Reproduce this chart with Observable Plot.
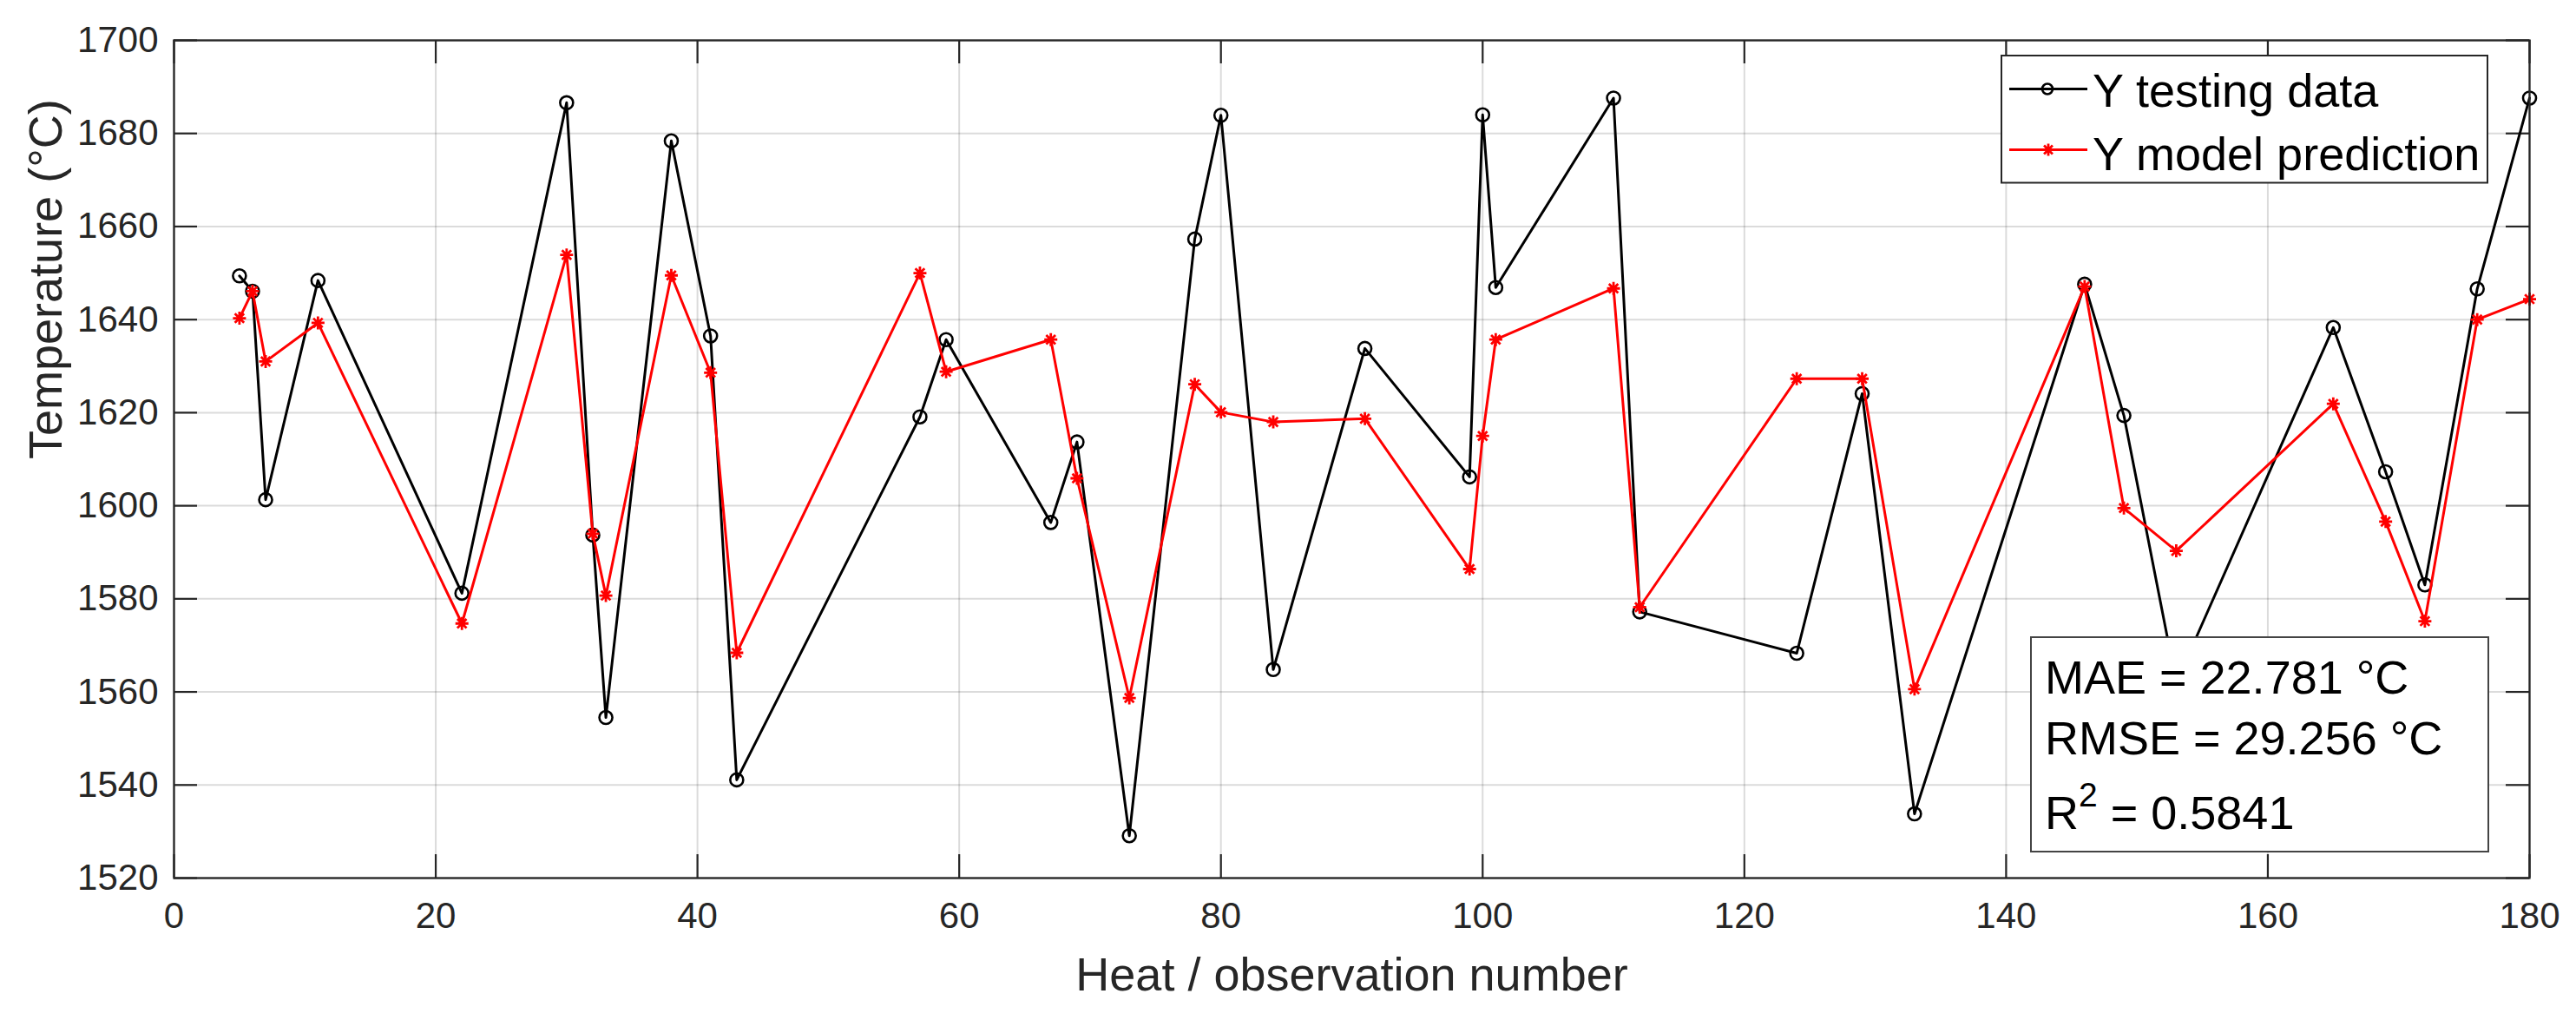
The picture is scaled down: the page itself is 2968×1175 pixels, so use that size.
<!DOCTYPE html>
<html>
<head>
<meta charset="utf-8">
<script src="https://cdn.jsdelivr.net/npm/d3@7"></script>
<script src="https://cdn.jsdelivr.net/npm/@observablehq/plot@0.6"></script>
<style>
  html, body { margin: 0; padding: 0; background: #fff; }
</style>
</head>
<body>
<div id="chart"></div>
<script>
// ---- data ----
const heat = [5, 6, 7, 11, 22, 30, 32, 33, 38, 41, 43, 57, 59, 67, 69, 73, 78, 80, 84, 91, 99, 100, 101, 110, 112, 124, 129, 133, 146, 149, 153, 165, 169, 172, 176, 180];
const testing = [1649.4, 1646.1, 1601.3, 1648.4, 1581.2, 1686.6, 1593.7, 1554.5, 1678.4, 1636.5, 1541.1, 1619.1, 1635.7, 1596.4, 1613.7, 1529.1, 1657.3, 1683.9, 1564.8, 1633.8, 1606.2, 1684.0, 1646.9, 1687.6, 1577.2, 1568.3, 1624.1, 1533.8, 1647.6, 1619.4, 1562.0, 1638.3, 1607.3, 1583.0, 1646.6, 1687.6];
const prediction = [1640.3, 1646.1, 1631.0, 1639.3, 1574.7, 1653.9, 1594.0, 1580.7, 1649.5, 1628.6, 1568.4, 1650.0, 1628.8, 1635.7, 1605.9, 1558.7, 1626.1, 1620.1, 1618.0, 1618.7, 1586.4, 1615.0, 1635.7, 1646.7, 1578.2, 1627.3, 1627.3, 1560.6, 1647.1, 1599.5, 1590.3, 1621.9, 1596.6, 1575.2, 1640.0, 1644.4];
const xTicks = [0, 20, 40, 60, 80, 100, 120, 140, 160, 180];
const yTicks = [1520, 1540, 1560, 1580, 1600, 1620, 1640, 1660, 1680, 1700];
const seriesNames = ["Y testing data", "Y model prediction"];
const statsLines = ["MAE = 22.781 °C", "RMSE = 29.256 °C"];
const r2Value = "0.5841";
const xLabel = "Heat / observation number";
const yLabel = "Temperature (°C)";

// ---- layout ----
const W = 2968, H = 1175;
const mL = 200, mR = 54, mT = 46, mB = 164;
const innerW = W - mL - mR, innerH = H - mT - mB;
const tickLen = 27;
const axisColor = "#262626";
const font = "'Liberation Sans', Arial, Helvetica, sans-serif";

const testRows = heat.map((x, i) => ({x, y: testing[i]}));
const predRows = heat.map((x, i) => ({x, y: prediction[i]}));

// MATLAB-like '*' marker: + and x combined
const asterisk = {
  draw(ctx, size) {
    const r = Math.sqrt(size / Math.PI);
    const d = r * Math.SQRT1_2;
    ctx.moveTo(-r, 0); ctx.lineTo(r, 0);
    ctx.moveTo(0, -r); ctx.lineTo(0, r);
    ctx.moveTo(-d, -d); ctx.lineTo(d, d);
    ctx.moveTo(-d, d); ctx.lineTo(d, -d);
  }
};

const fmt = d3.format("d");

const svg = Plot.plot({
  width: W,
  height: H,
  marginLeft: mL,
  marginRight: mR,
  marginTop: mT,
  marginBottom: mB,
  style: {fontFamily: font, color: axisColor, background: "#fff", overflow: "visible"},
  x: {domain: [0, 180]},
  y: {domain: [1520, 1700]},
  marks: [
    Plot.gridX(xTicks, {stroke: "#000", strokeOpacity: 0.14, strokeWidth: 2}),
    Plot.gridY(yTicks, {stroke: "#000", strokeOpacity: 0.14, strokeWidth: 2}),
    // inward ticks on all four sides
    Plot.tickX(xTicks, {x: d => d, insetTop: innerH - tickLen, stroke: axisColor, strokeWidth: 2.2}),
    Plot.tickX(xTicks, {x: d => d, insetBottom: innerH - tickLen, stroke: axisColor, strokeWidth: 2.2}),
    Plot.tickY(yTicks, {y: d => d, insetRight: innerW - tickLen, stroke: axisColor, strokeWidth: 2.2}),
    Plot.tickY(yTicks, {y: d => d, insetLeft: innerW - tickLen, stroke: axisColor, strokeWidth: 2.2}),
    Plot.axisX(xTicks, {anchor: "bottom", tickSize: 0, tickPadding: 28, fontSize: 42, tickFormat: fmt, label: null}),
    Plot.axisY(yTicks, {anchor: "left", tickSize: 0, tickPadding: 18, fontSize: 42, tickFormat: fmt, label: null}),
    Plot.text([xLabel], {text: d => d, frameAnchor: "bottom", dy: 129, lineAnchor: "bottom", fontSize: 54, fill: axisColor}),
    Plot.text([yLabel], {text: d => d, frameAnchor: "left", rotate: -90, dx: -130, lineAnchor: "bottom", fontSize: 54, fill: axisColor}),
    // series
    Plot.line(testRows, {x: "x", y: "y", stroke: "#000", strokeWidth: 3}),
    Plot.dot(testRows, {x: "x", y: "y", r: 7.5, stroke: "#000", fill: "none", strokeWidth: 2.6}),
    Plot.line(predRows, {x: "x", y: "y", stroke: "#ff0000", strokeWidth: 3}),
    Plot.dot(predRows, {x: "x", y: "y", r: 7.5, symbol: asterisk, stroke: "#ff0000", fill: "none", strokeWidth: 2.8}),
    Plot.frame({stroke: axisColor, strokeWidth: 2.3})
  ]
});

// ---- legend (inside top-right) ----
const s = d3.select(svg);
const lg = s.append("g").attr("text-anchor", "start");
lg.append("rect").attr("x", 2306).attr("y", 64).attr("width", 560).attr("height", 146.5)
  .attr("fill", "#fff").attr("stroke", axisColor).attr("stroke-width", 2);
const rowsY = [102.5, 172.5];
const baseY = [122.7, 196];
const colors = ["#000", "#ff0000"];
seriesNames.forEach((name, i) => {
  lg.append("line").attr("x1", 2315).attr("x2", 2405).attr("y1", rowsY[i]).attr("y2", rowsY[i])
    .attr("stroke", colors[i]).attr("stroke-width", 3);
  if (i === 0) {
    lg.append("circle").attr("cx", 2359).attr("cy", rowsY[i]).attr("r", 6)
      .attr("fill", "none").attr("stroke", "#000").attr("stroke-width", 2.6);
  } else {
    lg.append("path").attr("transform", `translate(2360,${rowsY[i]})`)
      .attr("d", d3.symbol(asterisk, Math.PI * 49)())
      .attr("fill", "none").attr("stroke", "#ff0000").attr("stroke-width", 2.8);
  }
  lg.append("text").attr("x", 2411).attr("y", baseY[i]).attr("font-size", 54)
    .attr("text-anchor", "start").attr("fill", "#000").style("font-family", font).text(name);
});

// ---- statistics box ----
const sb = s.append("g").attr("text-anchor", "start");
sb.append("rect").attr("x", 2340).attr("y", 734).attr("width", 527).attr("height", 247)
  .attr("fill", "#fff").attr("stroke", "#444").attr("stroke-width", 2);
const statY = [799, 869];
statsLines.forEach((t, i) => {
  sb.append("text").attr("x", 2356).attr("y", statY[i]).attr("font-size", 54)
    .attr("text-anchor", "start").attr("fill", "#000").style("font-family", font).text(t);
});
const r2 = sb.append("text").attr("x", 2356).attr("y", 954.6).attr("font-size", 54)
  .attr("text-anchor", "start").attr("fill", "#000").style("font-family", font);
r2.append("tspan").text("R");
r2.append("tspan").attr("font-size", 39).attr("dy", -26).text("2");
r2.append("tspan").attr("dy", 26).text(" = " + r2Value);

document.getElementById("chart").appendChild(svg);
</script>
</body>
</html>
